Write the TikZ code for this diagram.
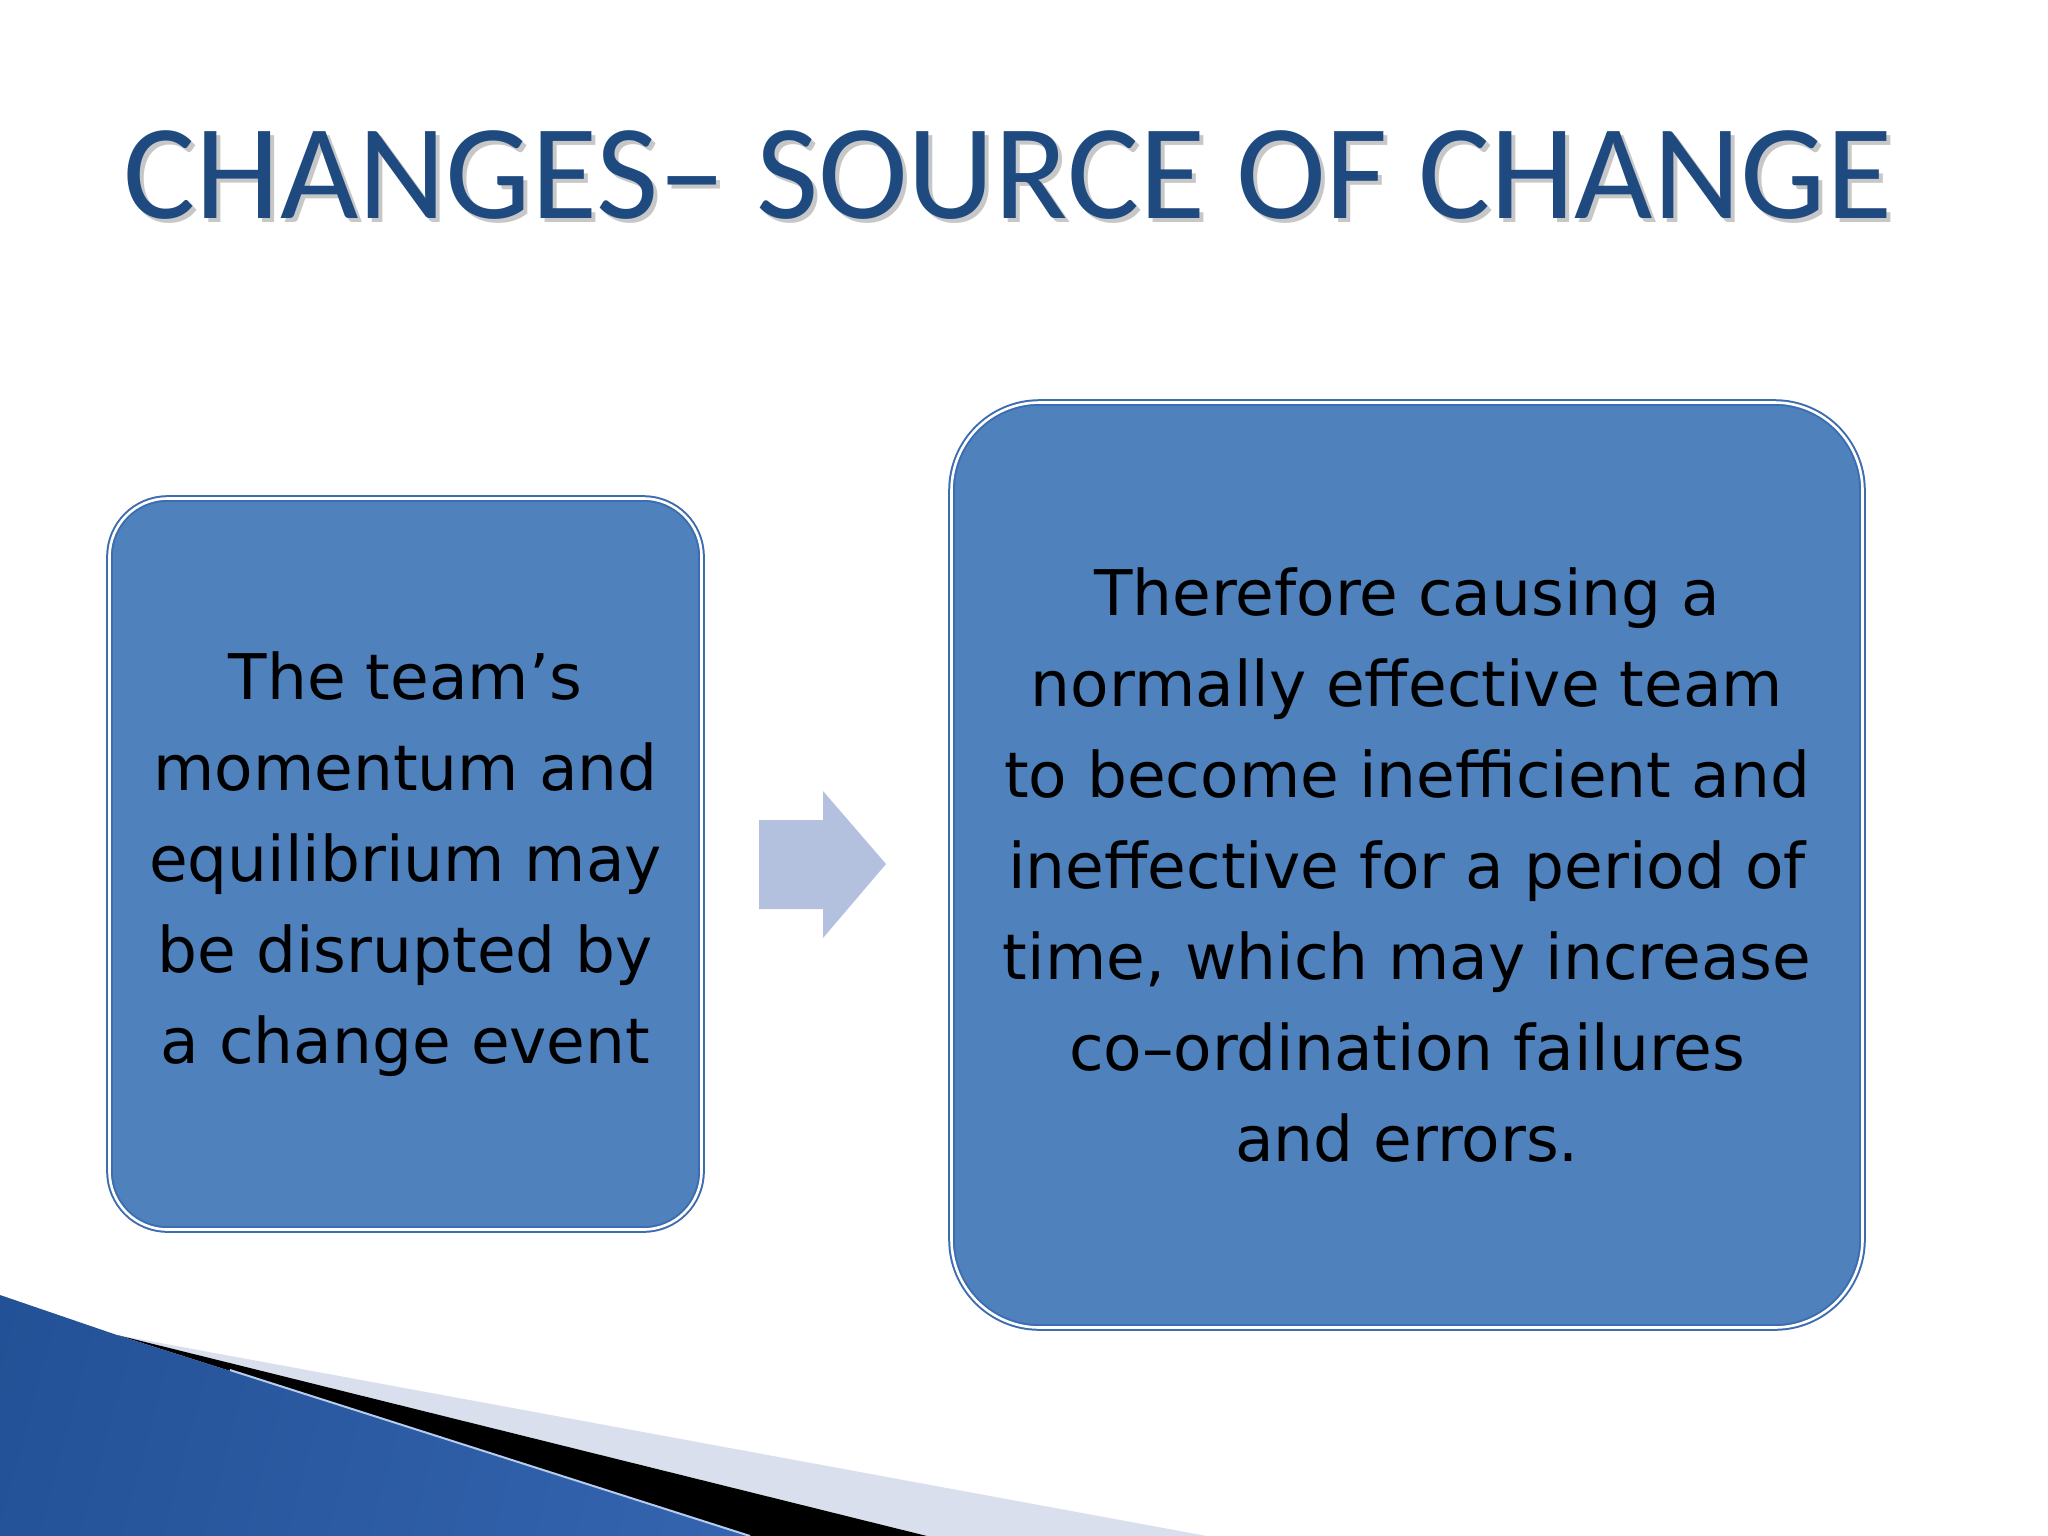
\documentclass[tikz,border=0pt]{standalone}
\usepackage{fontspec}
\newfontfamily\titlefont{Carlito}
\newfontfamily\bodyfont{DejaVu Sans}
\definecolor{boxblue}{HTML}{4F81BD}
\definecolor{boxline}{HTML}{3D6DB0}
\definecolor{titleblue}{HTML}{1F4A80}
\definecolor{arrowfill}{HTML}{B3C1DF}
\definecolor{lightband}{HTML}{DADFEE}
\definecolor{swdark}{HTML}{1E4C90}
\definecolor{swmid}{HTML}{6E9ADA}
\definecolor{swright}{HTML}{3565B0}
\tikzset{
  box/.style={draw=boxline, line width=2*0.01cm, double=white, double distance=2.6*0.01cm,
    fill=boxblue, inner sep=0pt, align=center, text=black,
    font=\bodyfont\fontsize{17.9}{25.9}\selectfont},
  titlestyle/.style={font=\titlefont\fontsize{38.5}{42}\selectfont, inner sep=0pt, anchor=base}
}
\begin{document}
\begin{tikzpicture}[x=0.01cm, y=-0.01cm]
\useasboundingbox (0,0) rectangle (2048,1536);
\fill[white] (0,0) rectangle (2048,1536);
% bottom swoosh
\fill[lightband] (117,1335) -- (1207,1536) -- (927,1536) -- cycle;
\fill[black] (117,1335) -- (927,1536) -- (750,1536) -- cycle;
\begin{scope}
  \clip (0,1295) -- (117,1335) -- (750,1536) -- (0,1536) -- cycle;
  \shade[left color=swdark, middle color=swmid, right color=swright, shading angle=75]
    (-300,1200) rectangle (850,1650);
\end{scope}
\draw[color=swmid!50!white, line width=2*0.01cm] (230,1370) -- (750,1536);
% title
\node[titlestyle, text=black!22] at (1012,222) {CHANGES– SOURCE OF CHANGE};
\node[titlestyle, text=titleblue] (title) at (1008,218) {CHANGES– SOURCE OF CHANGE};
% boxes
\node[box, minimum width=592*0.01cm, minimum height=731*0.01cm, rounded corners=58*0.01cm]
  (left) at (405.5,864) {The team’s\\momentum and\\equilibrium may\\be disrupted by\\a change event};
\node[box, minimum width=911*0.01cm, minimum height=925*0.01cm, rounded corners=88*0.01cm]
  (right) at (1407,865) {Therefore causing a\\normally effective team\\to become inefficient and\\ineffective for a period of\\time, which may increase\\co–ordination failures\\and errors.};
% arrow
\fill[arrowfill] (759,820) -- (823,820) -- (823,791) -- (886,864) -- (823,938) -- (823,909) -- (759,909) -- cycle;
\end{tikzpicture}
\end{document}
